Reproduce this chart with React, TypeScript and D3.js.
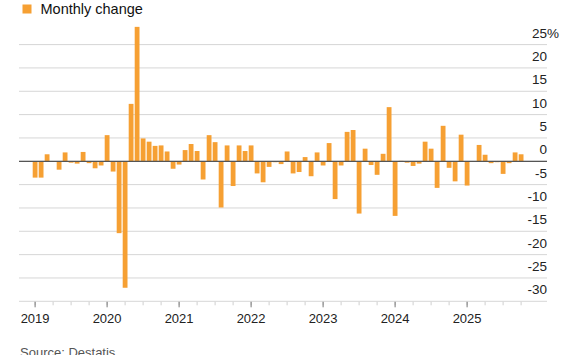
import React from 'react';
import * as d3 from 'd3';

const W = 567;
const H = 355;

// Jan 2019 .. Oct 2025 monthly change (%)
const values: number[] = [
  -3.5, -3.5, 1.5, -0.1, -1.8, 1.9, -0.3, -0.5, 2.0, -0.4, -1.5, -0.9,
  5.6, -2.2, -15.4, -27.1, 12.3, 28.8, 4.9, 4.2, 3.3, 3.4, 2.1, -1.6,
  -0.7, 2.4, 3.7, 2.2, -3.9, 5.6, 4.1, -9.9, 3.4, -5.3, 3.4, 2.2,
  3.4, -2.6, -4.5, -1.2, -0.2, -0.6, 2.1, -2.6, -2.3, 0.9, -3.2, 1.9,
  -0.9, 3.9, -8.1, -0.9, 6.3, 6.7, -11.2, 2.7, -0.8, -2.9, 1.6, 11.6,
  -11.7, 0.1, -0.3, -1.0, -0.5, 4.2, 2.7, -5.7, 7.6, -1.4, -4.3, 5.7,
  -5.2, 0.0, 3.5, 1.4, -0.4, -0.2, -2.7, -0.4, 1.9, 1.5,
];

const months: Date[] = d3.timeMonth.range(new Date(2019, 0, 1), new Date(2025, 10, 1));

const yTicks: number[] = [25, 20, 15, 10, 5, 0, -5, -10, -15, -20, -25, -30];
const yearLabels: string[] = ['2019', '2020', '2021', '2022', '2023', '2024', '2025'];

const legendLabel = 'Monthly change';
const sourceLabel = 'Source: Destatis';

const BAR = '#F6A033';
const FONT = '"Liberation Sans", Arial, Helvetica, sans-serif';

export default function App() {
  const left = 19;
  const right = 547;

  const x = d3
    .scaleBand<Date>()
    .domain(months)
    .range([32.1, 524.1])
    .paddingInner(0.2)
    .paddingOuter(0.1);

  const y = d3.scaleLinear().domain([-30, 25]).range([301.3, 44.6]);

  const cx = (d: Date) => (x(d) ?? 0) + x.bandwidth() / 2;

  const quarterTicks = months.filter((d) => d.getMonth() % 3 === 0);
  const yearTicks = months.filter((d) => d.getMonth() === 0);

  return (
    <svg
      width={W}
      height={H}
      style={{ position: 'absolute', left: 0, top: 0, background: '#fff' }}
      fontFamily={FONT}
    >
      <rect x={0} y={0} width={W} height={H} fill="#fff" />
      {/* legend */}
      <rect x={22.5} y={4.5} width={9} height={9} fill={BAR} />
      <text x={40.5} y={13.5} fontSize={14.5} fill="#111">
        {legendLabel}
      </text>

      {/* gridlines */}
      {yTicks.map((t) => (
        <line
          key={'g' + t}
          x1={left}
          x2={right}
          y1={y(t)}
          y2={y(t)}
          stroke="#d6d6d6"
          strokeWidth={1}
        />
      ))}

      {/* y labels */}
      {yTicks.map((t, i) => (
        <text
          key={'l' + t}
          x={right}
          y={y(t) - 7}
          fontSize={13.5}
          fill="#222"
          textAnchor="end"
        >
          {String(t)}
        </text>
      ))}
      <text x={right} y={y(25) - 7} fontSize={13.5} fill="#222">
        %
      </text>

      {/* bars */}
      {months.map((d, i) => {
        const v = values[i];
        const y0 = y(0);
        const y1 = y(v);
        return (
          <rect
            key={'b' + i}
            x={x(d)}
            y={Math.min(y0, y1)}
            width={x.bandwidth()}
            height={Math.abs(y1 - y0)}
            fill={BAR}
          />
        );
      })}

      {/* zero line */}
      <line x1={left} x2={right} y1={y(0)} y2={y(0)} stroke="#555" strokeWidth={1.2} />

      {/* x ticks */}
      {quarterTicks.map((d, i) => (
        <line
          key={'q' + i}
          x1={cx(d)}
          x2={cx(d)}
          y1={y(-30) + 0.5}
          y2={y(-30) + 4}
          stroke="#cfcfcf"
          strokeWidth={1}
        />
      ))}
      {yearTicks.map((d, i) => (
        <line
          key={'y' + i}
          x1={cx(d)}
          x2={cx(d)}
          y1={y(-30) + 0.5}
          y2={y(-30) + 6}
          stroke="#777"
          strokeWidth={1}
        />
      ))}
      {yearTicks.map((d, i) => (
        <text
          key={'yl' + i}
          x={cx(d)}
          y={322.5}
          fontSize={13}
          fill="#222"
          textAnchor="middle"
        >
          {yearLabels[i]}
        </text>
      ))}

      <text x={20} y={357} fontSize={13} fill="#555">
        {sourceLabel}
      </text>
    </svg>
  );
}
